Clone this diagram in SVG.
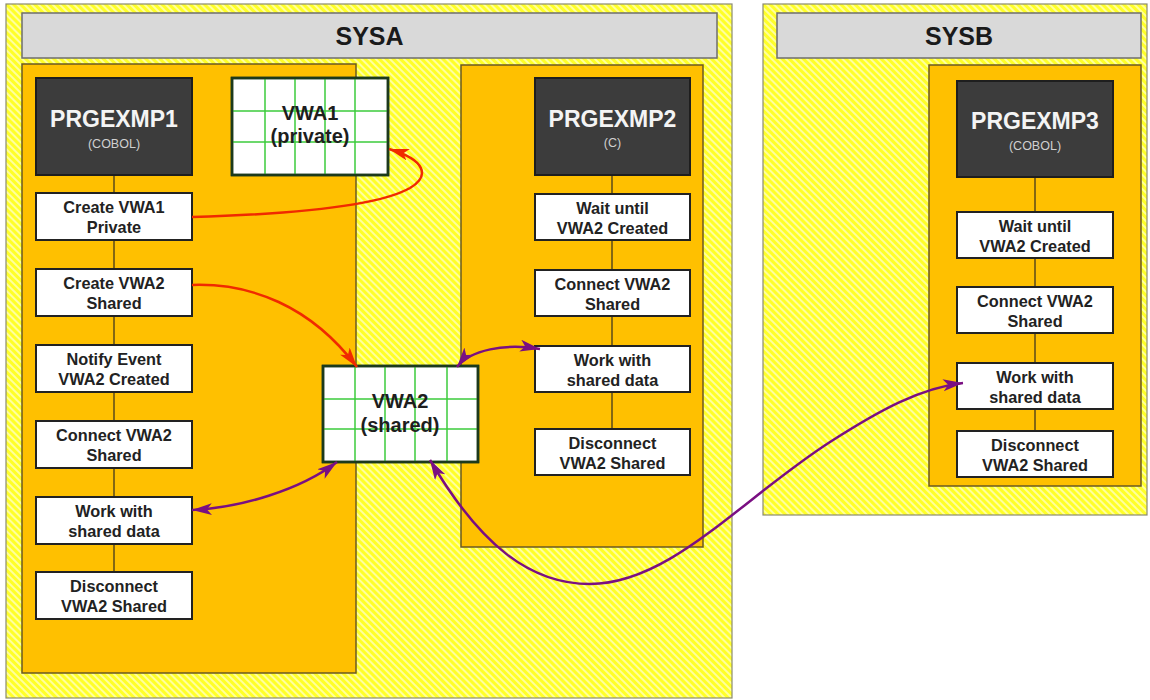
<svg xmlns="http://www.w3.org/2000/svg" width="1150" height="700" viewBox="0 0 1150 700">
<style>
text{font-family:"Liberation Sans",Arial,sans-serif;}
.sys{fill:url(#hatch);stroke:#8a8a70;stroke-width:1.2;}
.hdr{fill:#d9d9d9;stroke:#6e6e6e;stroke-width:1.5;}
.hdrt{font-size:25px;font-weight:bold;fill:#1a1a1a;text-anchor:middle;}
.cont{fill:#ffc000;stroke:#6b5a22;stroke-width:1.5;}
.prg{fill:#3c3c3c;stroke:#1e1e1e;stroke-width:2;}
.prgt{font-size:23px;font-weight:bold;fill:#f4f4f4;text-anchor:middle;}
.prgs{font-size:12.5px;fill:#d0d0d0;text-anchor:middle;}
.step{fill:#ffffff;stroke:#222;stroke-width:2;}
.stept{font-size:16.3px;font-weight:bold;fill:#222;text-anchor:middle;}
.vline{stroke:#5a4a1a;stroke-width:1.5;fill:none;}
.vwa{fill:#ffffff;stroke:#1c3a1c;stroke-width:2.5;}
.grid{stroke:#3ccc3c;stroke-width:1.5;fill:none;}
.vwat{font-size:20px;font-weight:bold;fill:#1e1e1e;text-anchor:middle;}
.red{stroke:#f02a00;stroke-width:2.5;fill:none;}
.pur{stroke:#7a0f82;stroke-width:2.5;fill:none;}
</style>
<defs>
<pattern id="hatch" width="5" height="5" patternUnits="userSpaceOnUse" patternTransform="rotate(45)">
<rect width="5" height="5" fill="#ffff28"/>
<line x1="0" y1="1" x2="5" y2="1" stroke="#ffffff" stroke-width="1.3" stroke-opacity="0.85"/>
</pattern>
<marker id="arR" markerUnits="userSpaceOnUse" markerWidth="22" markerHeight="14" refX="20" refY="6" orient="auto-start-reverse">
<path d="M0,0 L20,6 L0,12 L5,6 z" fill="#f02a00"/>
</marker>
<marker id="arP" markerUnits="userSpaceOnUse" markerWidth="22" markerHeight="14" refX="20" refY="6" orient="auto-start-reverse">
<path d="M0,0 L20,6 L0,12 L5,6 z" fill="#7a0f82"/>
</marker>
</defs>

<g id="SYSA">
<rect class="sys" x="6" y="4" width="726" height="694"/>
<rect class="hdr" x="22" y="13" width="695" height="45"/>
<text class="hdrt" x="369.5" y="45">SYSA</text>
</g>
<g id="SYSB">
<rect class="sys" x="763" y="4" width="384" height="511"/>
<rect class="hdr" x="777" y="13" width="364" height="45"/>
<text class="hdrt" x="959" y="45">SYSB</text>
</g>

<g id="PRGEXMP1-container">
<rect class="cont" x="22" y="64" width="334" height="609"/>
<line class="vline" x1="114" y1="175" x2="114" y2="572"/>
</g>
<g id="PRGEXMP2-container">
<rect class="cont" x="461" y="65" width="242" height="482"/>
<line class="vline" x1="612" y1="175" x2="612" y2="429"/>
</g>
<g id="PRGEXMP3-container">
<rect class="cont" x="929" y="65" width="212" height="421"/>
<line class="vline" x1="1035" y1="177" x2="1035" y2="431"/>
</g>

<g id="PRGEXMP1">
<rect class="prg" x="36" y="78" width="156" height="97"/>
<text class="prgt" x="114" y="127">PRGEXMP1</text>
<text class="prgs" x="114" y="148">(COBOL)</text>
</g>
<g id="p1-create-vwa1">
<rect class="step" x="36" y="193" width="156" height="47"/>
<text class="stept" x="114" y="213">Create VWA1</text>
<text class="stept" x="114" y="233">Private</text>
</g>
<g id="p1-create-vwa2">
<rect class="step" x="36" y="269" width="156" height="47"/>
<text class="stept" x="114" y="289">Create VWA2</text>
<text class="stept" x="114" y="309">Shared</text>
</g>
<g id="p1-notify">
<rect class="step" x="36" y="345" width="156" height="47"/>
<text class="stept" x="114" y="365">Notify Event</text>
<text class="stept" x="114" y="385">VWA2 Created</text>
</g>
<g id="p1-connect">
<rect class="step" x="36" y="421" width="156" height="47"/>
<text class="stept" x="114" y="441">Connect VWA2</text>
<text class="stept" x="114" y="461">Shared</text>
</g>
<g id="p1-work">
<rect class="step" x="36" y="497" width="156" height="47"/>
<text class="stept" x="114" y="517">Work with</text>
<text class="stept" x="114" y="537">shared data</text>
</g>
<g id="p1-disconnect">
<rect class="step" x="36" y="572" width="156" height="47"/>
<text class="stept" x="114" y="592">Disconnect</text>
<text class="stept" x="114" y="612">VWA2 Shared</text>
</g>

<g id="PRGEXMP2">
<rect class="prg" x="535" y="78" width="155" height="97"/>
<text class="prgt" x="612.5" y="127">PRGEXMP2</text>
<text class="prgs" x="612.5" y="147">(C)</text>
</g>
<g id="p2-wait">
<rect class="step" x="535" y="194" width="155" height="46"/>
<text class="stept" x="612.5" y="214">Wait until</text>
<text class="stept" x="612.5" y="234">VWA2 Created</text>
</g>
<g id="p2-connect">
<rect class="step" x="535" y="270" width="155" height="46"/>
<text class="stept" x="612.5" y="290">Connect VWA2</text>
<text class="stept" x="612.5" y="310">Shared</text>
</g>
<g id="p2-work">
<rect class="step" x="535" y="346" width="155" height="46"/>
<text class="stept" x="612.5" y="366">Work with</text>
<text class="stept" x="612.5" y="386">shared data</text>
</g>
<g id="p2-disconnect">
<rect class="step" x="535" y="429" width="155" height="46"/>
<text class="stept" x="612.5" y="449">Disconnect</text>
<text class="stept" x="612.5" y="469">VWA2 Shared</text>
</g>

<g id="PRGEXMP3">
<rect class="prg" x="957" y="81" width="156" height="96"/>
<text class="prgt" x="1035" y="129">PRGEXMP3</text>
<text class="prgs" x="1035" y="150">(COBOL)</text>
</g>
<g id="p3-wait">
<rect class="step" x="957" y="212" width="156" height="46"/>
<text class="stept" x="1035" y="232">Wait until</text>
<text class="stept" x="1035" y="252">VWA2 Created</text>
</g>
<g id="p3-connect">
<rect class="step" x="957" y="287" width="156" height="46"/>
<text class="stept" x="1035" y="307">Connect VWA2</text>
<text class="stept" x="1035" y="327">Shared</text>
</g>
<g id="p3-work">
<rect class="step" x="957" y="363" width="156" height="46"/>
<text class="stept" x="1035" y="383">Work with</text>
<text class="stept" x="1035" y="403">shared data</text>
</g>
<g id="p3-disconnect">
<rect class="step" x="957" y="431" width="156" height="46"/>
<text class="stept" x="1035" y="451">Disconnect</text>
<text class="stept" x="1035" y="471">VWA2 Shared</text>
</g>

<g id="VWA1">
<rect class="vwa" x="232" y="78" width="156" height="97"/>
<path class="grid" d="M265,79V174M295,79V174M325,79V174M355,79V174M233,111H387M233,142H387"/>
<rect x="232" y="78" width="156" height="97" fill="none" stroke="#1c3a1c" stroke-width="2.5"/>
<text class="vwat" x="310" y="120">VWA1</text>
<text class="vwat" x="310" y="143">(private)</text>
</g>
<g id="VWA2">
<rect class="vwa" x="323" y="366" width="155" height="96"/>
<path class="grid" d="M355,367V461M385,367V461M415,367V461M447,367V461M324,399H477M324,429H477"/>
<rect x="323" y="366" width="155" height="96" fill="none" stroke="#1c3a1c" stroke-width="2.5"/>
<text class="vwat" x="400" y="408">VWA2</text>
<text class="vwat" x="400" y="432">(shared)</text>
</g>

<g id="connectors">
<path class="red" d="M192,217 C300,214 380,205 410,188 C430,176 426,160 389,149" marker-end="url(#arR)"/>
<path class="red" d="M192,285 C250,283 310,305 357,367" marker-end="url(#arR)"/>
<path class="pur" d="M457,367 C470,350 505,343 540,349" marker-start="url(#arP)" marker-end="url(#arP)"/>
<path class="pur" d="M192,510 C240,508 300,490 337,462" marker-start="url(#arP)" marker-end="url(#arP)"/>
<path class="pur" d="M430,460 C480,545 530,584 590,584 C670,584 740,500 830,442 C880,410 920,388 963,383" marker-start="url(#arP)" marker-end="url(#arP)"/>
</g>
</svg>
